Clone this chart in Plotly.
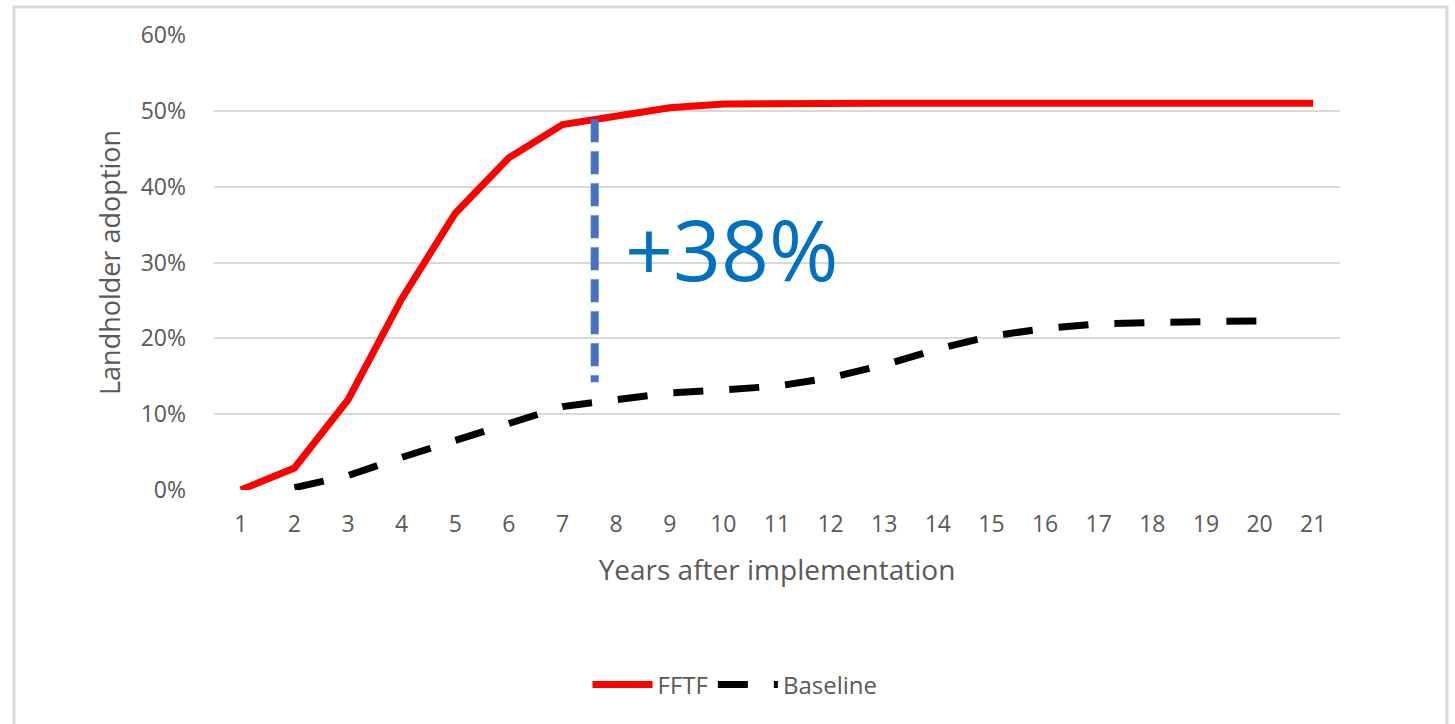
import plotly.graph_objects as go

# Years after implementation (category positions 1..21)
years = list(range(1, 22))

# Landholder adoption, as fractions
fftf = [0.0, 0.029, 0.119, 0.252, 0.365, 0.438, 0.482, 0.493, 0.504, 0.509,
        0.510, 0.510, 0.510, 0.510, 0.510, 0.510, 0.510, 0.510, 0.510, 0.510, 0.510]
baseline_years = list(range(2, 21))
baseline = [0.003, 0.019, 0.043, 0.066, 0.088, 0.110, 0.119, 0.128, 0.132,
            0.137, 0.148, 0.165, 0.186, 0.203, 0.213, 0.219, 0.221, 0.221, 0.223]

# Gap marker between the two curves
gap_x = [7.6, 7.6]
gap_y = [0.489, 0.142]
gap_label = "+38%"

y_ticks = [0, 0.1, 0.2, 0.3, 0.4, 0.5, 0.6]
y_tick_text = ["0%", "10%", "20%", "30%", "40%", "50%", "60%"]

FONT = "Open Sans"
GREY = "#595959"

fig = go.Figure()

fig.add_trace(go.Scatter(
    x=years, y=fftf, name="FFTF", mode="lines",
    line=dict(color="#FF0000", width=7),
))
fig.add_trace(go.Scatter(
    x=baseline_years, y=baseline, name="Baseline", mode="lines",
    line=dict(color="#000000", width=7, dash="30px,26px"),
))
fig.add_trace(go.Scatter(
    x=gap_x, y=gap_y, mode="lines", showlegend=False, hoverinfo="skip",
    line=dict(color="#4472C4", width=8, dash="23px,9px"),
))

fig.add_annotation(
    x=8.13, y=0.318, xref="x", yref="y", text=gap_label, showarrow=False,
    xanchor="left", yanchor="middle",
    font=dict(family=FONT, size=84, color="#0070C0"),
)

# Chart-area border
fig.add_shape(
    type="rect", xref="paper", yref="paper",
    x0=-0.1776, x1=1.0950, y0=-0.60, y1=1.0615,
    line=dict(color="#D9D9D9", width=3), fillcolor="rgba(0,0,0,0)", layer="below",
)

fig.update_xaxes(
    range=[0.5, 21.5], tickmode="array", tickvals=years,
    ticktext=[str(v) for v in years],
    showgrid=False, zeroline=False, showline=False, ticks="",
    tickfont=dict(family=FONT, size=23, color=GREY),
    ticklabelstandoff=18,
    title=dict(text="Years after implementation", standoff=22,
               font=dict(family=FONT, size=28, color=GREY)),
)
fig.update_yaxes(
    range=[0, 0.6], tickmode="array", tickvals=y_ticks, ticktext=y_tick_text,
    showgrid=True, gridcolor="#D9D9D9", gridwidth=2,
    zeroline=False, showline=False, ticks="",
    tickfont=dict(family=FONT, size=23, color=GREY),
    ticklabelstandoff=27,
    title=dict(text="Landholder adoption", standoff=12,
               font=dict(family=FONT, size=27, color=GREY)),
)

fig.update_layout(
    width=1455, height=724,
    margin=dict(l=214, r=115, t=35, b=234),
    paper_bgcolor="white", plot_bgcolor="white",
    showlegend=True,
    legend=dict(
        orientation="h", x=0.4627, y=-0.4286, xanchor="center", yanchor="middle",
        font=dict(family=FONT, size=24, color=GREY),
        itemwidth=60, bgcolor="rgba(0,0,0,0)",
    ),
)

fig.write_html("out.html")
